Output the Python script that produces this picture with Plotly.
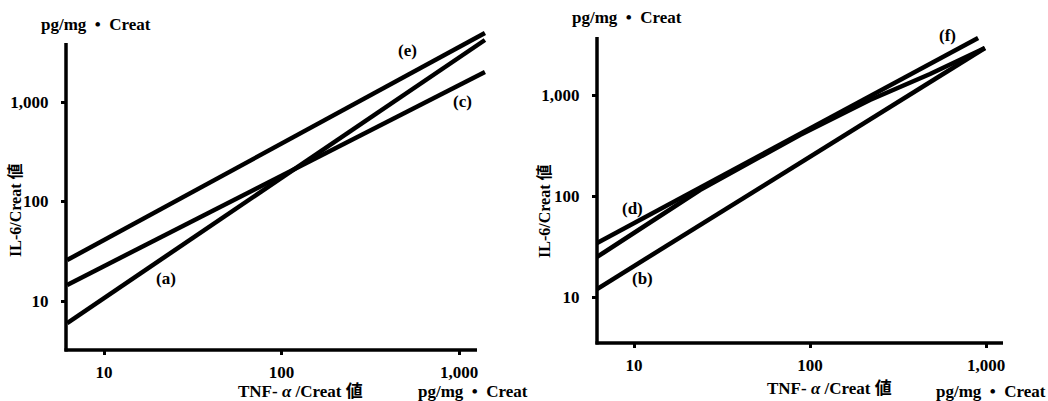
import plotly.graph_objects as go

W, H = 1048, 401

# ---------------- data ----------------
tick_vals = [10, 100, 1000]
tick_text = ["10", "100", "1,000"]

# left panel
left_x = [6.2, 1400]
left_e = [25.8, 4930]
left_c = [14.5, 2000]
left_a = [6.0, 4200]

# right panel
right_top_x = [6.17, 902]
right_top_y = [34.3, 3660]
right_mid_x = [6.17, 23.7, 87.7, 219, 481, 986]
right_mid_y = [24.9, 114.6, 402, 891, 1614, 2918]
right_b_x = [6.17, 986]
right_b_y = [12.0, 2918]

FONT = "'Liberation Serif', 'Times New Roman', 'Noto Sans CJK JP', serif"
LW = 4.5

def px(x):
    return x / W

def py(y):
    return 1 - y / H

fig = go.Figure()

for xs, ys in [(left_x, left_e), (left_x, left_c), (left_x, left_a)]:
    fig.add_trace(go.Scatter(x=xs, y=ys, mode="lines", xaxis="x", yaxis="y",
                             line=dict(color="black", width=LW), showlegend=False,
                             hoverinfo="skip"))
for xs, ys in [(right_top_x, right_top_y), (right_mid_x, right_mid_y), (right_b_x, right_b_y)]:
    fig.add_trace(go.Scatter(x=xs, y=ys, mode="lines", xaxis="x2", yaxis="y2",
                             line=dict(color="black", width=LW),
                             showlegend=False, hoverinfo="skip"))

tickfont = dict(family=FONT, size=17, color="black", weight="bold")
common_x = dict(type="log", tickvals=tick_vals, ticktext=tick_text, showgrid=False,
                zeroline=False, showline=False, ticks="outside", ticklen=4, tickwidth=3,
                tickcolor="black", tickfont=tickfont, ticklabelstandoff=3)
common_y = dict(type="log", tickvals=tick_vals, ticktext=tick_text, showgrid=False,
                zeroline=False, showline=False, ticks="outside", ticklen=4, tickwidth=3,
                tickcolor="black", tickfont=tickfont, ticklabelstandoff=9)

# left panel geometry
L_x0, L_x1 = 66, 490
L_yb, L_yt = 350, 28
fig.update_layout(
    xaxis=dict(domain=[px(L_x0), px(L_x1)], range=[1 - (104 - L_x0) / 177.5, 3 + (L_x1 - 459) / 177.5],
               anchor="y", **common_x),
    yaxis=dict(domain=[py(L_yb), py(L_yt)], range=[1 - (L_yb - 301) / 99.5, 3 + (102 - L_yt) / 99.5],
               anchor="x", **common_y),
)

# right panel geometry
R_x0, R_x1 = 597, 1008
R_yb, R_yt = 343, 28
fig.update_layout(
    xaxis2=dict(domain=[px(R_x0), px(R_x1)], range=[1 - (634 - R_x0) / 176, 3 + (R_x1 - 986) / 176],
                anchor="y2", **common_x),
    yaxis2=dict(domain=[py(R_yb), py(R_yt)], range=[1 - (R_yb - 297) / 101, 3 + (95 - R_yt) / 101],
                anchor="x2", **common_y),
)

# axis lines
axw = 3.5
shapes = [
    dict(type="line", xref="paper", yref="paper", x0=px(66), x1=px(66), y0=py(351.5), y1=py(43),
         line=dict(color="black", width=axw)),
    dict(type="line", xref="paper", yref="paper", x0=px(64.5), x1=px(477), y0=py(350), y1=py(350),
         line=dict(color="black", width=axw)),
    dict(type="line", xref="paper", yref="paper", x0=px(597), x1=px(597), y0=py(344.5), y1=py(37),
         line=dict(color="black", width=axw)),
    dict(type="line", xref="paper", yref="paper", x0=px(595.5), x1=px(1003), y0=py(343), y1=py(343),
         line=dict(color="black", width=axw)),
]

def ann(text, x, y, size=17, angle=0):
    return dict(text=text, x=px(x), y=py(y), xref="paper", yref="paper", showarrow=False,
                xanchor="center", yanchor="middle", textangle=angle,
                font=dict(family=FONT, size=size, color="black"))

B = lambda s: "<b>" + s + "</b>"
annotations = [
    ann(B("pg/mg  •  Creat"), 96, 24, 17),
    ann(B("IL-6/Creat 値"), 15, 211, 16, -90),
    ann(B("TNF- <i>α</i> /Creat 値"), 300, 391, 17),
    ann(B("pg/mg  •  Creat"), 473, 391, 17),
    ann(B("(e)"), 407, 50, 17),
    ann(B("(c)"), 463, 102, 17),
    ann(B("(a)"), 166, 278, 17),
    ann(B("pg/mg  •  Creat"), 627, 18, 17),
    ann(B("IL-6/Creat 値"), 544, 212, 16, -90),
    ann(B("TNF- <i>α</i> /Creat 値"), 829, 388, 17),
    ann(B("pg/mg  •  Creat"), 991, 391, 17),
    ann(B("(f)"), 947, 36, 17),
    ann(B("(d)"), 632, 209, 17),
    ann(B("(b)"), 642, 278, 17),
]

fig.update_layout(width=W, height=H, margin=dict(l=0, r=0, t=0, b=0),
                  paper_bgcolor="white", plot_bgcolor="white",
                  shapes=shapes, annotations=annotations, showlegend=False)

fig.write_html("out.html")
